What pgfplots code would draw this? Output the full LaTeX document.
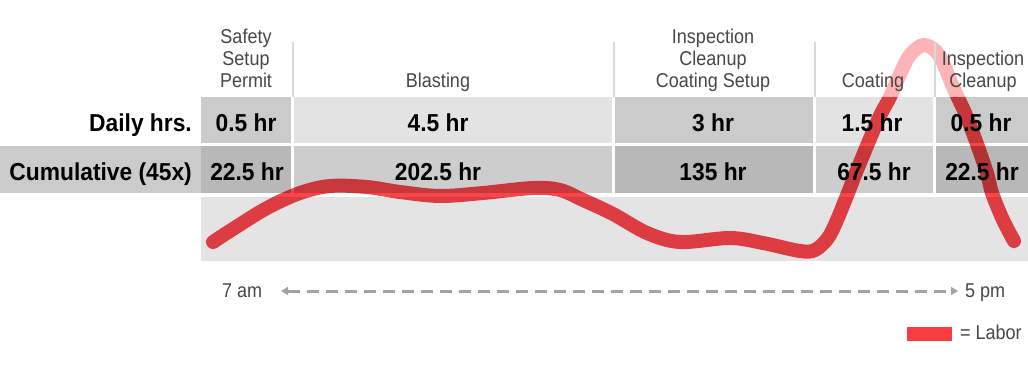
\documentclass[border=0pt]{standalone}
\usepackage{pgfplots}
\pgfplotsset{compat=1.18}
\usepackage{fontspec}
\setmainfont{Liberation Sans}
\newfontfamily\hdr{Liberation Sans}[FakeStretch=0.9]
\newfontfamily\bld{Liberation Sans}[FakeStretch=0.93]
\usetikzlibrary{arrows.meta}
\definecolor{labor}{HTML}{F8454A}
\definecolor{legred}{HTML}{F93C41}
\definecolor{gA}{HTML}{CBCBCB}
\definecolor{gB}{HTML}{E3E3E3}
\definecolor{gC}{HTML}{B8B8B8}
\definecolor{gD}{HTML}{CDCDCD}
\definecolor{gR}{HTML}{E4E4E4}
\definecolor{hline}{HTML}{D8D8D8}
\definecolor{htext}{HTML}{474747}
\definecolor{arrowc}{HTML}{A3A3A3}
\begin{document}
\begin{tikzpicture}
\begin{axis}[width=1028bp,height=370bp,scale only axis,
  xmin=0,xmax=1028,ymin=0,ymax=370,y dir=reverse,
  hide axis,clip=false]
% labor curve
\addplot[color=labor,line width=14bp,line cap=round,line join=round,smooth,tension=0.55] coordinates {
(213,242) (233,229) (267,208) (300,193) (330,186) (367,187) (400,192)
(440,196) (483,193) (533,188) (560,190) (583,200) (613,214) (647,233)
(680,242) (730,238) (763,243) (800,251) (815,250) (828,238) (837,220)
(848,193) (857,170) (878,120) (890,97) (900,74) (910,55) (924,45)
(939,55) (953,87) (968,120) (986,170) (992,193) (1003,220) (1014,241)
};
% row 1 cells
\fill[blend mode=multiply,gA] (axis cs:201,97) rectangle (axis cs:291,143);
\fill[blend mode=multiply,gB] (axis cs:294,97) rectangle (axis cs:612,143);
\fill[blend mode=multiply,gA] (axis cs:615,97) rectangle (axis cs:813,143);
\fill[blend mode=multiply,gB] (axis cs:816,97) rectangle (axis cs:933,143);
\fill[blend mode=multiply,gA] (axis cs:936,97) rectangle (axis cs:1028,143);
% row 2 cells
\fill[blend mode=multiply,gA] (axis cs:0,146) rectangle (axis cs:201,193);
\fill[blend mode=multiply,gC] (axis cs:201,146) rectangle (axis cs:291,193);
\fill[blend mode=multiply,gD] (axis cs:294,146) rectangle (axis cs:612,193);
\fill[blend mode=multiply,gC] (axis cs:615,146) rectangle (axis cs:813,193);
\fill[blend mode=multiply,gD] (axis cs:816,146) rectangle (axis cs:933,193);
\fill[blend mode=multiply,gC] (axis cs:936,146) rectangle (axis cs:1028,193);
% row 3 band
\fill[blend mode=multiply,gR] (axis cs:201,197) rectangle (axis cs:1028,261);
% header veil
\fill[white,opacity=0.6] (axis cs:201,0) rectangle (axis cs:1028,96.5);
% header lines
\foreach \xx in {292.5,613.5,814.5,934.5}{
  \edef\tmp{\noexpand\draw[hline,line width=2bp] (axis cs:\xx,42) -- (axis cs:\xx,97);}\tmp
}
% header text
\tikzset{hd/.style={anchor=base,inner sep=0pt,text=htext,font=\hdr\fontsize{20bp}{24bp}\selectfont},
         vl/.style={anchor=base,inner sep=0pt,text=black,font=\bld\bfseries\fontsize{24.5bp}{28bp}\selectfont}}
\node[hd] at (axis cs:246,43.5) {Safety};
\node[hd] at (axis cs:246,65.5) {Setup};
\node[hd] at (axis cs:246,87.5) {Permit};
\node[hd] at (axis cs:438,87.5) {Blasting};
\node[hd] at (axis cs:713,43.5) {Inspection};
\node[hd] at (axis cs:713,65.5) {Cleanup};
\node[hd] at (axis cs:713,87.5) {Coating Setup};
\node[hd] at (axis cs:873,87.5) {Coating};
\node[hd] at (axis cs:983,65.5) {Inspection};
\node[hd] at (axis cs:983,87.5) {Cleanup};
% row labels
\node[vl,anchor=base east] at (axis cs:192,131.5) {Daily hrs.};
\node[vl,anchor=base east] at (axis cs:192,180) {Cumulative (45x)};
% values
\node[vl] at (axis cs:246,131.5) {0.5 hr};
\node[vl] at (axis cs:438,131.5) {4.5 hr};
\node[vl] at (axis cs:713,131.5) {3 hr};
\node[vl] at (axis cs:872,131.5) {1.5 hr};
\node[vl] at (axis cs:981,131.5) {0.5 hr};
\node[vl] at (axis cs:247,180) {22.5 hr};
\node[vl] at (axis cs:438,180) {202.5 hr};
\node[vl] at (axis cs:713,180) {135 hr};
\node[vl] at (axis cs:874,180) {67.5 hr};
\node[vl] at (axis cs:982,180) {22.5 hr};
% time axis
\draw[arrowc,line width=3bp,dash pattern=on 12bp off 7bp,
  {Triangle[length=7bp,width=8bp]}-{Triangle[length=7bp,width=8bp]}]
  (axis cs:281,291) -- (axis cs:958,291);
\node[hd,anchor=base west,text=htext] at (axis cs:222,297.5) {7 am};
\node[hd,anchor=base west,text=htext] at (axis cs:965,297.5) {5 pm};
% legend
\fill[legred] (axis cs:907,327) rectangle (axis cs:952,341);
\node[hd,anchor=base west] at (axis cs:960,339.5) {= Labor};
\end{axis}
\pgfresetboundingbox
\path (0,0) rectangle (1028bp,370bp);
\end{tikzpicture}
\end{document}
